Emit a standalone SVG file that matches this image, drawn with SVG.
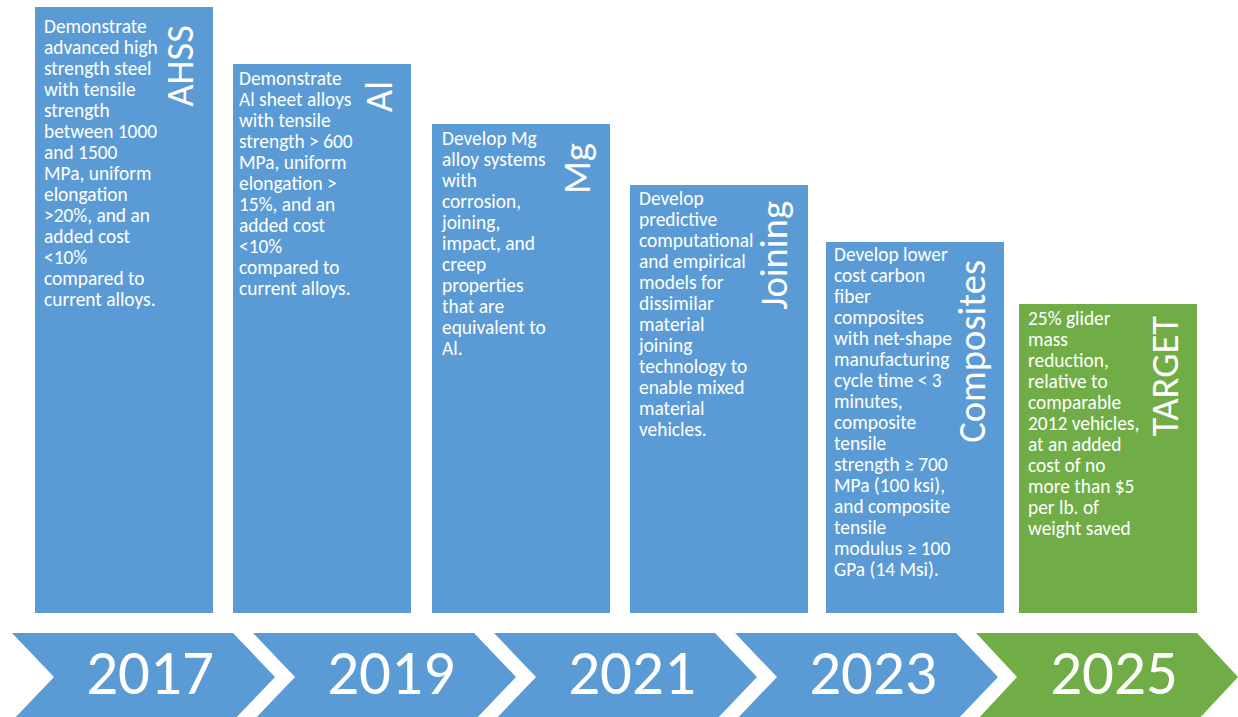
<svg xmlns="http://www.w3.org/2000/svg" width="1238" height="717" viewBox="0 0 1238 717">
  <style>
    .blue { fill: #5B9BD5; }
    .green { fill: #70AD47; }
    .body { font-family: Carlito, Lato, "Open Sans", sans-serif; font-size: 19.4px; fill: #FFFFFF; }
    .label { font-family: Carlito, Lato, "Open Sans", sans-serif; font-size: 38.5px; fill: #FFFFFF; text-anchor: end; }
    .year { font-family: Carlito, Lato, "Open Sans", sans-serif; font-size: 63px; fill: #FFFFFF; text-anchor: middle; }
  </style>
  <rect width="1238" height="717" fill="#FFFFFF"/>

  <!-- milestone columns -->
  <g id="ahss">
    <rect class="blue" x="35" y="7" width="178" height="606"/>
    <text class="label" transform="translate(193,25) rotate(-90)">AHSS</text>
    <text class="body" x="44" y="33">
      <tspan x="44" dy="0">Demonstrate</tspan>
      <tspan x="44" dy="21">advanced high</tspan>
      <tspan x="44" dy="21">strength steel</tspan>
      <tspan x="44" dy="21">with tensile</tspan>
      <tspan x="44" dy="21">strength</tspan>
      <tspan x="44" dy="21">between 1000</tspan>
      <tspan x="44" dy="21">and 1500</tspan>
      <tspan x="44" dy="21">MPa, uniform</tspan>
      <tspan x="44" dy="21">elongation</tspan>
      <tspan x="44" dy="21">&gt;20%, and an</tspan>
      <tspan x="44" dy="21">added cost</tspan>
      <tspan x="44" dy="21">&lt;10%</tspan>
      <tspan x="44" dy="21">compared to</tspan>
      <tspan x="44" dy="21">current alloys.</tspan>
    </text>
  </g>

  <g id="al">
    <rect class="blue" x="233" y="64" width="178" height="549"/>
    <text class="label" transform="translate(392,81) rotate(-90)">Al</text>
    <text class="body" x="239" y="85">
      <tspan x="239" dy="0">Demonstrate</tspan>
      <tspan x="239" dy="21">Al sheet alloys</tspan>
      <tspan x="239" dy="21">with tensile</tspan>
      <tspan x="239" dy="21">strength &gt; 600</tspan>
      <tspan x="239" dy="21">MPa, uniform</tspan>
      <tspan x="239" dy="21">elongation &gt;</tspan>
      <tspan x="239" dy="21">15%, and an</tspan>
      <tspan x="239" dy="21">added cost</tspan>
      <tspan x="239" dy="21">&lt;10%</tspan>
      <tspan x="239" dy="21">compared to</tspan>
      <tspan x="239" dy="21">current alloys.</tspan>
    </text>
  </g>

  <g id="mg">
    <rect class="blue" x="432" y="124" width="178" height="489"/>
    <text class="label" transform="translate(590,143) rotate(-90)">Mg</text>
    <text class="body" x="442" y="145">
      <tspan x="442" dy="0">Develop Mg</tspan>
      <tspan x="442" dy="21">alloy systems</tspan>
      <tspan x="442" dy="21">with</tspan>
      <tspan x="442" dy="21">corrosion,</tspan>
      <tspan x="442" dy="21">joining,</tspan>
      <tspan x="442" dy="21">impact, and</tspan>
      <tspan x="442" dy="21">creep</tspan>
      <tspan x="442" dy="21">properties</tspan>
      <tspan x="442" dy="21">that are</tspan>
      <tspan x="442" dy="21">equivalent to</tspan>
      <tspan x="442" dy="21">Al.</tspan>
    </text>
  </g>

  <g id="joining">
    <rect class="blue" x="630" y="185" width="178" height="428"/>
    <text class="label" transform="translate(787,201) rotate(-90)">Joining</text>
    <text class="body" x="639" y="205">
      <tspan x="639" dy="0">Develop</tspan>
      <tspan x="639" dy="21">predictive</tspan>
      <tspan x="639" dy="21">computational</tspan>
      <tspan x="639" dy="21">and empirical</tspan>
      <tspan x="639" dy="21">models for</tspan>
      <tspan x="639" dy="21">dissimilar</tspan>
      <tspan x="639" dy="21">material</tspan>
      <tspan x="639" dy="21">joining</tspan>
      <tspan x="639" dy="21">technology to</tspan>
      <tspan x="639" dy="21">enable mixed</tspan>
      <tspan x="639" dy="21">material</tspan>
      <tspan x="639" dy="21">vehicles.</tspan>
    </text>
  </g>

  <g id="composites">
    <rect class="blue" x="826" y="242" width="178" height="371"/>
    <text class="label" transform="translate(985,260) rotate(-90)">Composites</text>
    <text class="body" x="834" y="261">
      <tspan x="834" dy="0">Develop lower</tspan>
      <tspan x="834" dy="21">cost carbon</tspan>
      <tspan x="834" dy="21">fiber</tspan>
      <tspan x="834" dy="21">composites</tspan>
      <tspan x="834" dy="21">with net-shape</tspan>
      <tspan x="834" dy="21">manufacturing</tspan>
      <tspan x="834" dy="21">cycle time &lt; 3</tspan>
      <tspan x="834" dy="21">minutes,</tspan>
      <tspan x="834" dy="21">composite</tspan>
      <tspan x="834" dy="21">tensile</tspan>
      <tspan x="834" dy="21">strength ≥ 700</tspan>
      <tspan x="834" dy="21">MPa (100 ksi),</tspan>
      <tspan x="834" dy="21">and composite</tspan>
      <tspan x="834" dy="21">tensile</tspan>
      <tspan x="834" dy="21">modulus ≥ 100</tspan>
      <tspan x="834" dy="21">GPa (14 Msi).</tspan>
    </text>
  </g>

  <g id="target">
    <rect class="green" x="1019" y="304" width="178" height="309"/>
    <text class="label" transform="translate(1178,316) rotate(-90)">TARGET</text>
    <text class="body" x="1028" y="325">
      <tspan x="1028" dy="0">25% glider</tspan>
      <tspan x="1028" dy="21">mass</tspan>
      <tspan x="1028" dy="21">reduction,</tspan>
      <tspan x="1028" dy="21">relative to</tspan>
      <tspan x="1028" dy="21">comparable</tspan>
      <tspan x="1028" dy="21">2012 vehicles,</tspan>
      <tspan x="1028" dy="21">at an added</tspan>
      <tspan x="1028" dy="21">cost of no</tspan>
      <tspan x="1028" dy="21">more than $5</tspan>
      <tspan x="1028" dy="21">per lb. of</tspan>
      <tspan x="1028" dy="21">weight saved</tspan>
    </text>
  </g>

  <!-- timeline chevrons -->
  <g id="timeline">
    <g id="y2017">
      <polygon class="blue" points="12,633 233,633 275,677 233,721 12,721 54,677"/>
      <text class="year" x="150" y="694">2017</text>
    </g>
    <g id="y2019">
      <polygon class="blue" points="253,633 474,633 516,677 474,721 253,721 295,677"/>
      <text class="year" x="391" y="694">2019</text>
    </g>
    <g id="y2021">
      <polygon class="blue" points="494,633 715,633 757,677 715,721 494,721 536,677"/>
      <text class="year" x="632" y="694">2021</text>
    </g>
    <g id="y2023">
      <polygon class="blue" points="735,633 956,633 998,677 956,721 735,721 777,677"/>
      <text class="year" x="873" y="694">2023</text>
    </g>
    <g id="y2025">
      <polygon class="green" points="976,633 1197,633 1238,677 1197,721 976,721 1017,677"/>
      <text class="year" x="1114" y="694">2025</text>
    </g>
  </g>
</svg>
